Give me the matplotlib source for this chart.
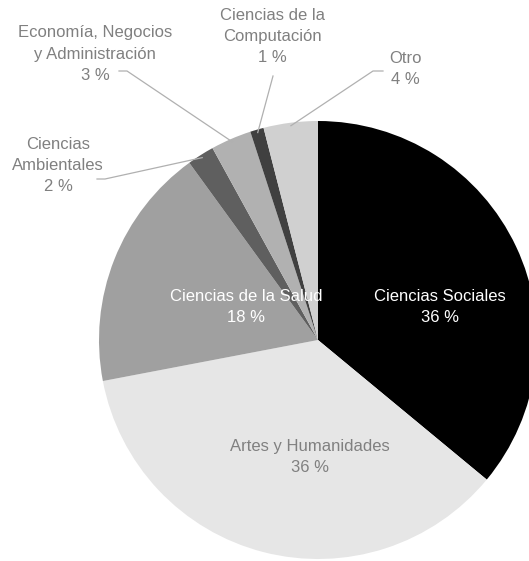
import numpy as np
import matplotlib
matplotlib.use("Agg")
import matplotlib.pyplot as plt

plt.rcParams['font.family'] = ['Liberation Sans', 'DejaVu Sans']

# Data (clockwise from 12 o'clock)
categories = ['Ciencias Sociales', 'Artes y Humanidades', 'Ciencias de la Salud',
              'Ciencias\nAmbientales', 'Economía, Negocios\ny Administración',
              'Ciencias de la\nComputación', 'Otro']
values = [36, 36, 18, 2, 3, 1, 4]
colors = ['#000000', '#e6e6e6', '#a0a0a0', '#5f5f5f', '#b1b1b1', '#404040', '#d0d0d0']

# label layout (pixel coords, y from top), inside flag, leader-line start
label_pos = [(440, 307), (310, 457), (246, 307), (58, 165), (95, 54), (272, 36), (405, 69)]
inside = [True, True, True, False, False, False, False]
text_colors = ['white', '#808080', 'white', '#808080', '#808080', '#808080', '#808080']
leader_start = [None, None, None, (97, 179), (119, 71), (273, 76), (383, 71)]
leader_knee = [None, None, None, (105, 179), (127, 71), None, (373, 71)]

W, H = 529, 561
fig = plt.figure(figsize=(W / 100, H / 100), dpi=100)
ax = fig.add_axes([0, 0, 1, 1])

cx, cy, r = 318, H - 340, 219
wedges, _ = ax.pie(values, colors=colors, startangle=90, counterclock=False,
                   center=(cx, cy), radius=r, frame=True)
ax.set_xlim(0, W)
ax.set_ylim(0, H)
ax.set_aspect('equal')
ax.axis('off')

for i, w in enumerate(wedges):
    lx, ly = label_pos[i]
    ax.text(lx, H - ly, f"{categories[i]}\n{values[i]} %", ha='center', va='center',
            fontsize=12, color=text_colors[i], linespacing=1.5)
    if not inside[i]:
        mid = np.deg2rad((w.theta1 + w.theta2) / 2)
        ex, ey = cx + (r - 3) * np.cos(mid), cy + (r - 3) * np.sin(mid)
        pts = [leader_start[i]]
        if leader_knee[i] is not None:
            pts.append(leader_knee[i])
        xs = [p[0] for p in pts] + [ex]
        ys = [H - p[1] for p in pts] + [ey]
        ax.plot(xs, ys, color='#b0b0b0', lw=0.9)

fig.savefig('out.png', dpi=100)
